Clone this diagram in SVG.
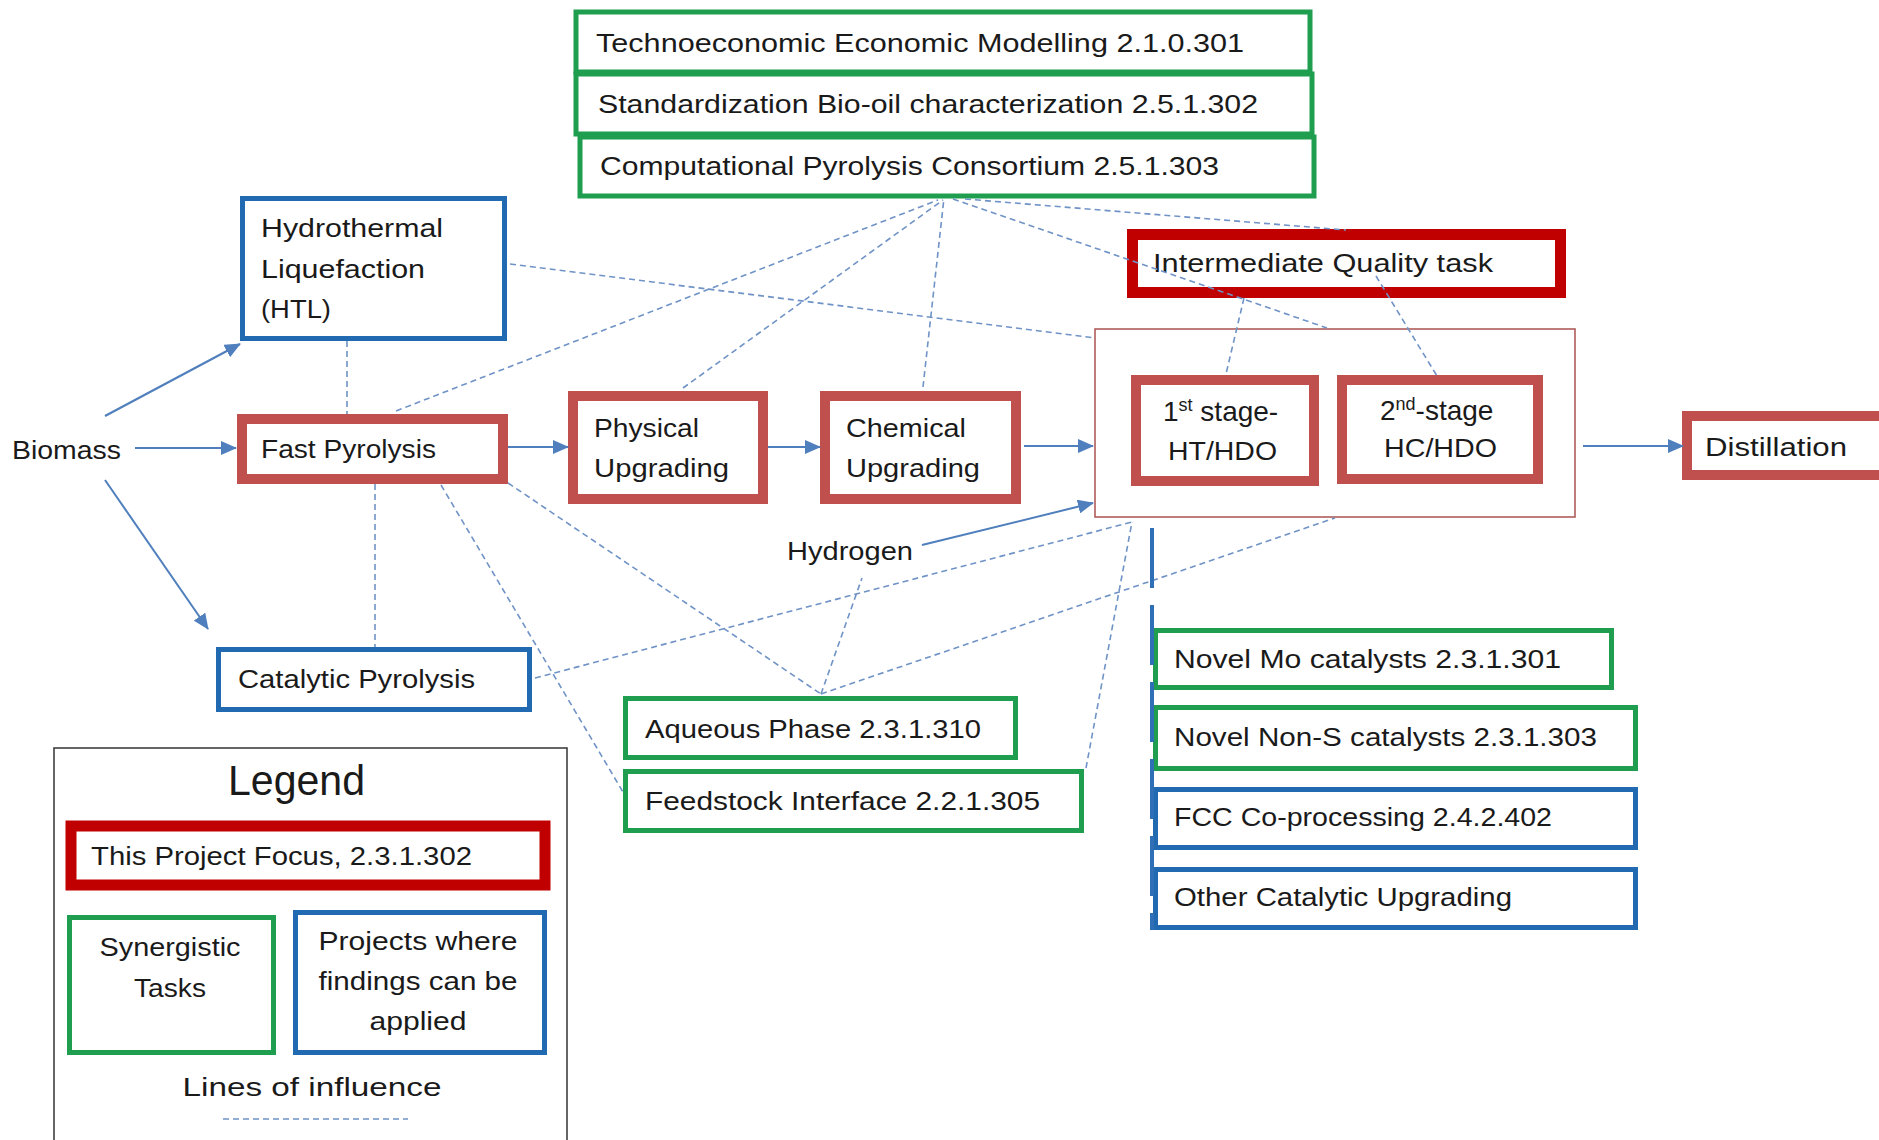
<svg xmlns="http://www.w3.org/2000/svg" width="1879" height="1140" viewBox="0 0 1879 1140">
<style>
text{font-family:"Liberation Sans",Arial,sans-serif;font-size:25px;fill:#1a1a1a}
.g{fill:#fff;stroke:#1f9e50;stroke-width:5}
.b{fill:#fff;stroke:#2169b0;stroke-width:5}
.r{fill:#fff;stroke:#c0504d;stroke-width:10}
.dr{fill:#fff;stroke:#c00000;stroke-width:11}
.ct{fill:none;stroke:#a9524f;stroke-width:1.5}
.lg{fill:#fff;stroke:#333;stroke-width:1.5}
.d{fill:none;stroke:#6f93c6;stroke-width:1.6;stroke-dasharray:6 4}
.a{fill:none;stroke:#4f7fbd;stroke-width:2;marker-end:url(#ah)}
.tk{fill:none;stroke:#2e6fb5;stroke-width:4;stroke-dasharray:60 17}
.c{text-anchor:middle}
.big{font-size:42px}
.st{font-size:28px}
.sup{font-size:18px}
</style>
<defs>
<marker id="ah" markerUnits="userSpaceOnUse" markerWidth="16" markerHeight="14" refX="15" refY="7" orient="auto">
<path d="M0,0 L16,7 L0,14 Z" fill="#4f7fbd"/>
</marker>
</defs>
<rect width="1879" height="1140" fill="#fff"/>

<g id="container"><rect class="ct" x="1095" y="329" width="480" height="188"/></g>

<g id="tea"><rect class="g" x="576" y="12" width="734" height="60"/><text x="596" y="52" textLength="648" lengthAdjust="spacingAndGlyphs">Technoeconomic Economic Modelling  2.1.0.301</text></g>
<g id="standard"><rect class="g" x="576" y="74" width="736" height="60"/><text x="598" y="113" textLength="660" lengthAdjust="spacingAndGlyphs">Standardization  Bio-oil characterization 2.5.1.302</text></g>
<g id="cpc"><rect class="g" x="580" y="137" width="734" height="59"/><text x="600" y="175" textLength="619" lengthAdjust="spacingAndGlyphs">Computational Pyrolysis Consortium 2.5.1.303</text></g>

<g id="htl"><rect class="b" x="242.5" y="198.5" width="262" height="140"/>
<text x="261" y="237" textLength="182" lengthAdjust="spacingAndGlyphs">Hydrothermal</text>
<text x="261" y="278" textLength="164" lengthAdjust="spacingAndGlyphs">Liquefaction</text>
<text x="261" y="318" textLength="70" lengthAdjust="spacingAndGlyphs">(HTL)</text></g>

<g id="biomass"><text x="12" y="459" textLength="109" lengthAdjust="spacingAndGlyphs">Biomass</text></g>

<g id="fastpyro"><rect class="r" x="242" y="419" width="261" height="60"/><text x="261" y="458" textLength="175" lengthAdjust="spacingAndGlyphs">Fast Pyrolysis</text></g>

<g id="physical"><rect class="r" x="573" y="396" width="190" height="103"/>
<text x="594" y="437" textLength="105" lengthAdjust="spacingAndGlyphs">Physical</text>
<text x="594" y="477" textLength="135" lengthAdjust="spacingAndGlyphs">Upgrading</text></g>

<g id="chemical"><rect class="r" x="825" y="396" width="191" height="103"/>
<text x="846" y="437" textLength="120" lengthAdjust="spacingAndGlyphs">Chemical</text>
<text x="846" y="477" textLength="134" lengthAdjust="spacingAndGlyphs">Upgrading</text></g>

<g id="stage1"><rect class="r" x="1136" y="380" width="178" height="101"/>
<text class="st" x="1163" y="421">1<tspan class="sup" dy="-10">st</tspan><tspan dy="10"> stage-</tspan></text>
<text x="1168" y="460" textLength="109" lengthAdjust="spacingAndGlyphs">HT/HDO</text></g>

<g id="stage2"><rect class="r" x="1342" y="380" width="196" height="99"/>
<text class="st" x="1380" y="420">2<tspan class="sup" dy="-10">nd</tspan><tspan dy="10">-stage</tspan></text>
<text x="1384" y="457" textLength="113" lengthAdjust="spacingAndGlyphs">HC/HDO</text></g>

<g id="iq"><rect class="dr" x="1132.5" y="234.5" width="428" height="58"/><text x="1153" y="272" textLength="340" lengthAdjust="spacingAndGlyphs">Intermediate Quality task</text></g>

<g id="distillation"><rect class="r" x="1687" y="416" width="210" height="59"/><text x="1705" y="456" textLength="142" lengthAdjust="spacingAndGlyphs">Distillation</text></g>

<g id="hydrogen"><text x="787" y="560" textLength="126" lengthAdjust="spacingAndGlyphs">Hydrogen</text></g>

<g id="catpyro"><rect class="b" x="218.5" y="649.5" width="311" height="60"/><text x="238" y="688" textLength="237" lengthAdjust="spacingAndGlyphs">Catalytic Pyrolysis</text></g>

<g id="aqueous"><rect class="g" x="625.5" y="698.5" width="390" height="59"/><text x="645" y="738" textLength="336" lengthAdjust="spacingAndGlyphs">Aqueous Phase 2.3.1.310</text></g>
<g id="feedstock"><rect class="g" x="625.5" y="771.5" width="456" height="59"/><text x="645" y="810" textLength="395" lengthAdjust="spacingAndGlyphs">Feedstock Interface 2.2.1.305</text></g>

<g id="novelmo"><rect class="g" x="1155.5" y="630.5" width="456" height="57"/><text x="1174" y="668" textLength="387" lengthAdjust="spacingAndGlyphs">Novel Mo catalysts 2.3.1.301</text></g>
<g id="nonS"><rect class="g" x="1155.5" y="707.5" width="480" height="61"/><text x="1174" y="746" textLength="423" lengthAdjust="spacingAndGlyphs">Novel Non-S catalysts 2.3.1.303</text></g>
<g id="fcc"><rect class="b" x="1155.5" y="789.5" width="480" height="58"/><text x="1174" y="826" textLength="378" lengthAdjust="spacingAndGlyphs">FCC Co-processing 2.4.2.402</text></g>
<g id="other"><rect class="b" x="1155.5" y="869.5" width="480" height="58"/><text x="1174" y="906" textLength="338" lengthAdjust="spacingAndGlyphs">Other Catalytic Upgrading</text></g>

<g id="legend">
<rect class="lg" x="54" y="748" width="513" height="400"/>
<text class="big" x="228" y="795" textLength="137" lengthAdjust="spacingAndGlyphs">Legend</text>
<rect class="dr" x="71" y="826" width="474" height="59"/>
<text x="91" y="865" textLength="381" lengthAdjust="spacingAndGlyphs">This Project Focus, 2.3.1.302</text>
<rect class="g" x="69.5" y="917.5" width="204" height="135"/>
<text class="c" x="170" y="956" textLength="141" lengthAdjust="spacingAndGlyphs">Synergistic</text>
<text class="c" x="170" y="997" textLength="72" lengthAdjust="spacingAndGlyphs">Tasks</text>
<rect class="b" x="295.5" y="912.5" width="249" height="140"/>
<text class="c" x="418" y="950" textLength="199" lengthAdjust="spacingAndGlyphs">Projects where</text>
<text class="c" x="418" y="990" textLength="199" lengthAdjust="spacingAndGlyphs">findings can be</text>
<text class="c" x="418" y="1030" textLength="97" lengthAdjust="spacingAndGlyphs">applied</text>
<text class="c" x="312" y="1096" textLength="259" lengthAdjust="spacingAndGlyphs">Lines of influence</text>
<line class="d" x1="223" y1="1119" x2="408" y2="1119"/>
</g>

<g id="connectors">
<line class="a" x1="135" y1="448" x2="236" y2="448"/>
<line class="a" x1="508" y1="447" x2="568" y2="447"/>
<line class="a" x1="768" y1="447" x2="820" y2="447"/>
<line class="a" x1="1024" y1="446" x2="1093" y2="446"/>
<line class="a" x1="1583" y1="446" x2="1683" y2="446"/>
<line class="a" x1="105" y1="416" x2="240" y2="344"/>
<line class="a" x1="105" y1="480" x2="208" y2="629"/>
<line class="a" x1="922" y1="545" x2="1093" y2="503"/>

<line class="d" x1="396" y1="411" x2="938" y2="200"/>
<line class="d" x1="683" y1="388" x2="943" y2="200"/>
<line class="d" x1="923" y1="387" x2="944" y2="198"/>
<line class="d" x1="953" y1="199" x2="1327" y2="328"/>
<line class="d" x1="965" y1="199" x2="1346" y2="230"/>
<line class="d" x1="510" y1="264" x2="1095" y2="338"/>
<line class="d" x1="1244" y1="298" x2="1226" y2="374"/>
<line class="d" x1="1376" y1="276" x2="1437" y2="376"/>
<line class="d" x1="347" y1="341" x2="347" y2="414"/>
<line class="d" x1="375" y1="484" x2="375" y2="647"/>
<line class="d" x1="441" y1="485" x2="623" y2="792"/>
<line class="d" x1="508" y1="483" x2="821" y2="694"/>
<line class="d" x1="535" y1="678" x2="1132" y2="522"/>
<line class="d" x1="821" y1="694" x2="1335" y2="518"/>
<line class="d" x1="821" y1="694" x2="862" y2="578"/>
<line class="d" x1="1086" y1="768" x2="1132" y2="522"/>
<line class="tk" x1="1152" y1="528" x2="1152" y2="930"/>
</g>
</svg>
